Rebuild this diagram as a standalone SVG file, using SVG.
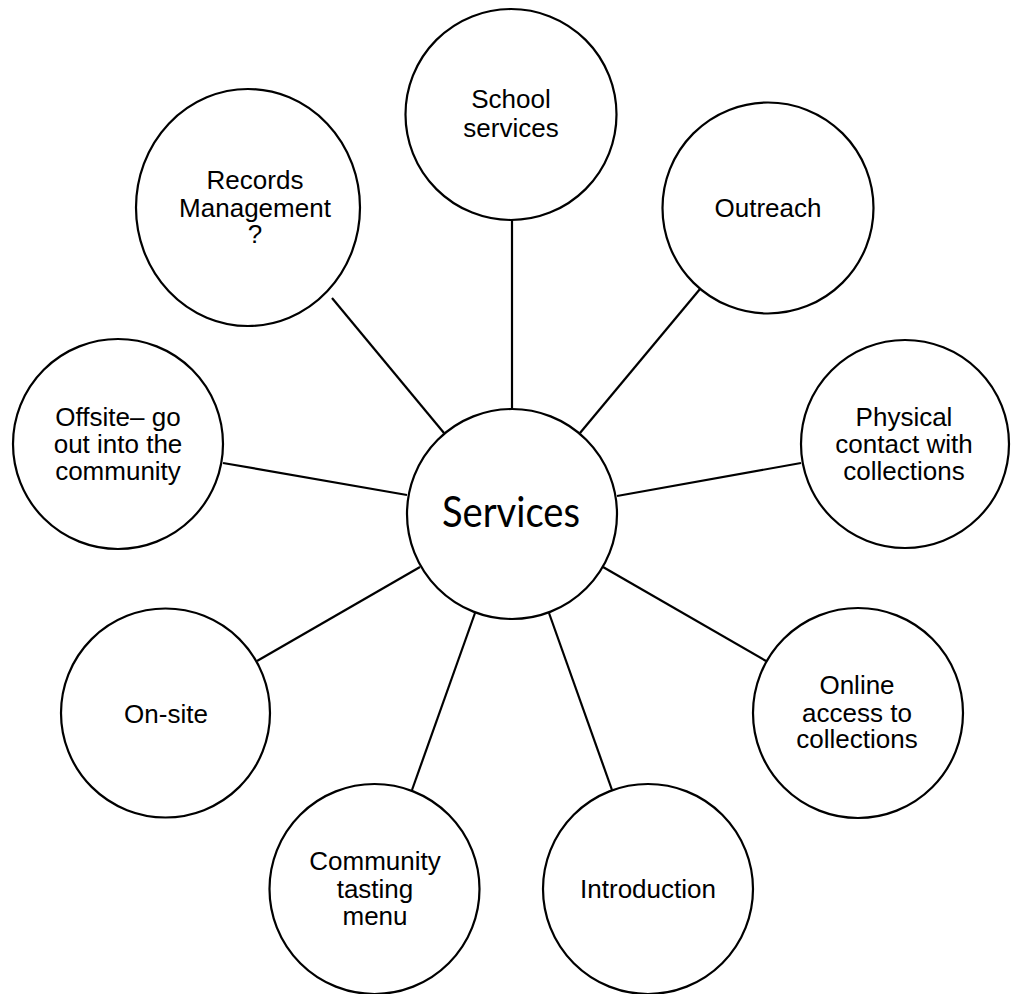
<svg xmlns="http://www.w3.org/2000/svg" width="1011" height="994" viewBox="0 0 1011 994">
<style>
.c{fill:#fff;stroke:#000;stroke-width:2.2}
.t{font-family:"Liberation Sans",Arial,sans-serif;font-size:26px;fill:#000;text-anchor:middle}
.big{font-family:Lato,"Open Sans",sans-serif;font-size:42px;fill:#000;text-anchor:middle}
#connectors line{stroke:#000;stroke-width:2.2}
</style>
<rect width="1011" height="994" fill="#fff"/>
<g id="connectors">
<line x1="512" y1="220" x2="512" y2="409"/>
<line x1="332" y1="298" x2="444" y2="433"/>
<line x1="700" y1="289" x2="580" y2="433"/>
<line x1="223" y1="463" x2="407" y2="495"/>
<line x1="801" y1="463" x2="617" y2="496"/>
<line x1="257" y1="661" x2="420" y2="567"/>
<line x1="766" y1="661" x2="603" y2="567"/>
<line x1="412" y1="790" x2="475" y2="613"/>
<line x1="612" y1="790" x2="549" y2="613"/>
</g>
<g id="services"><circle class="c" cx="512" cy="514" r="105"/><text class="big" x="511" y="527" textLength="138" lengthAdjust="spacingAndGlyphs">Services</text></g>
<g id="school"><circle class="c" cx="511" cy="114.5" r="105.5"/><text class="t" x="511" y="108">School</text><text class="t" x="511" y="137">services</text></g>
<g id="records"><ellipse class="c" cx="248" cy="207.5" rx="112" ry="118.5"/><text class="t" x="255" y="189">Records</text><text class="t" x="255" y="217">Management</text><text class="t" x="255" y="243">?</text></g>
<g id="outreach"><circle class="c" cx="768" cy="208" r="105.5"/><text class="t" x="768" y="217">Outreach</text></g>
<g id="offsite"><circle class="c" cx="118" cy="444" r="105"/><text class="t" x="118" y="426">Offsite– go</text><text class="t" x="118" y="453">out into the</text><text class="t" x="118" y="480">community</text></g>
<g id="physical"><circle class="c" cx="905" cy="444" r="104"/><text class="t" x="904" y="426">Physical</text><text class="t" x="904" y="453">contact with</text><text class="t" x="904" y="480">collections</text></g>
<g id="onsite"><circle class="c" cx="165.5" cy="713" r="104.5"/><text class="t" x="166" y="723">On-site</text></g>
<g id="online"><circle class="c" cx="858" cy="713" r="105"/><text class="t" x="857" y="694">Online</text><text class="t" x="857" y="722">access to</text><text class="t" x="857" y="748">collections</text></g>
<g id="community"><circle class="c" cx="374.5" cy="889" r="105"/><text class="t" x="375" y="870">Community</text><text class="t" x="375" y="898">tasting</text><text class="t" x="375" y="925">menu</text></g>
<g id="introduction"><circle class="c" cx="648" cy="889" r="105"/><text class="t" x="648" y="898">Introduction</text></g>
</svg>
